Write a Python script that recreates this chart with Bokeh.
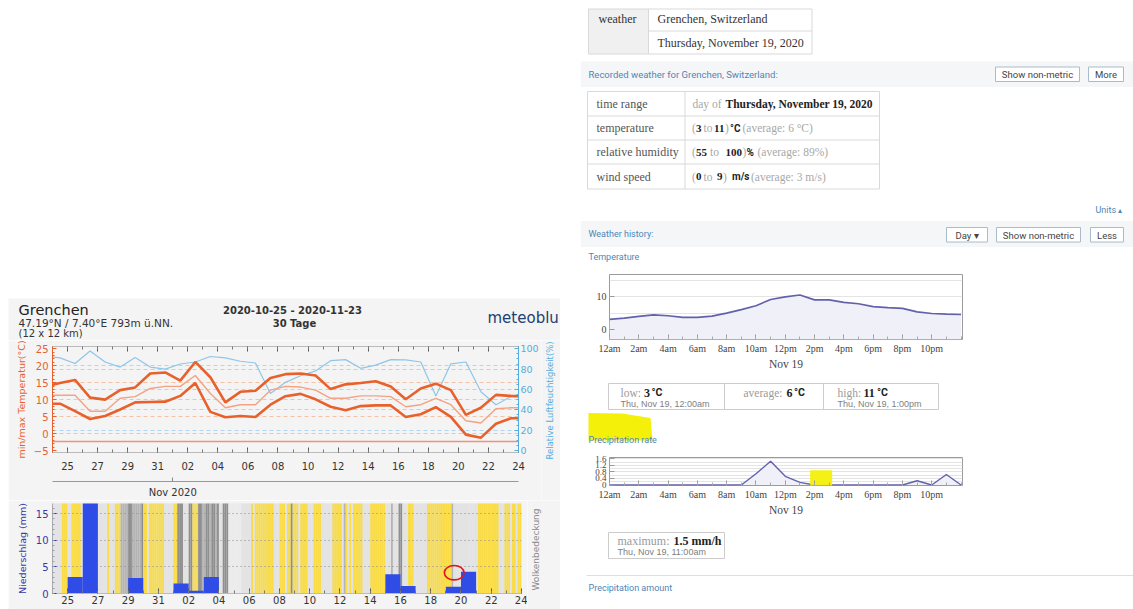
import math
from bokeh.plotting import figure
from bokeh.models import Range1d, LinearAxis, FixedTicker, Spacer
from bokeh.layouts import row, column
from bokeh.core.properties import value
from bokeh.embed import file_html
from bokeh.resources import INLINE

# ---------------- data : meteoblue 30-day chart ----------------
# day offsets, 0 = 2020-10-25 00:00 ; daily values drawn at noon
MB_DAYS = list(range(-2, 31))  # Oct 23 .. Nov 24
T_MAX = [13.9, 14.9, 15.8, 10.6, 10.0, 12.8, 13.6, 17.7, 18.0, 15.6, 21.1, 16.6, 9.2,
         12.3, 12.6, 16.4, 17.5, 17.7, 17.1, 13.1, 14.5, 14.9, 15.4, 13.9, 10.1, 13.3,
         14.7, 12.8, 5.5, 7.6, 11.4, 11.1, 11.0]
T_MEAN = [11.3, 11.3, 11.3, 6.6, 6.6, 10.4, 10.9, 13.3, 13.9, 13.9, 17.1, 11.8, 7.6,
          8.5, 8.5, 12.8, 13.9, 13.7, 12.8, 10.4, 10.4, 11.1, 11.1, 10.9, 7.9, 8.5,
          10.4, 8.5, 3.8, 3.1, 7.3, 7.6, 7.6]
T_MIN = [8.8, 8.8, 6.6, 4.3, 5.2, 7.1, 9.2, 9.3, 9.4, 11.1, 14.9, 6.4, 4.8, 5.2, 4.9,
         8.5, 11.0, 11.7, 10.1, 7.9, 6.9, 8.1, 8.3, 8.3, 4.9, 5.7, 7.8, 4.9, -0.3, -1.2,
         2.9, 4.5, 4.5]
HUM = [93, 91, 85.5, 97.8, 87, 82, 91.5, 82, 80, 85, 87, 92.4, 91, 87.7, 86, 56, 67,
       73.5, 78.2, 88.3, 89.3, 80.8, 83.9, 89.3, 89, 87, 53.6, 85.2, 87, 57.7, 45, 53, 53]
FROST_LINE = [-2.2]

PRECIP_DAYS = list(range(0, 30))  # Oct 25 .. Nov 23
PRECIP = [3.1, 17.5, 0, 0, 2.9, 0, 0, 1.9, 0.5, 3.1, 0.1, 0, 0, 0, 0, 0, 0, 0, 0, 0, 0,
          3.6, 1.4, 0, 0, 1.25, 4.1, 0, 0, 0]

# cloud cover, 3-hourly, from Oct 24: Y sunny, W/L light, M medium, D dark
CLOUD_START = -1
CLOUD = ["LLLLLYYY", "LLYYYYYL", "LLLLLLLL", "LLLLLYLL", "LYYYMMMM", "DDMMMMMD",
         "YYLYYYYY", "YYYLLLLL", "YYDDDLLL", "DDYYYDDM", "MDDMDDMD", "LLDDDWWW",
         "WWWWLLLL", "LYLYYYYY", "YYYYYLLL", "YYYLYYDY", "YYLYYYYL", "LLYYYYLL",
         "LLLLYYYY", "YLMYLYLY", "YYYYLLLL", "YYYYYYYY", "LLLMLLLD", "DLLLYYYL",
         "LLLLLLYY", "YYYYYYYY", "YYYMLLLL", "LLLLLLLL", "LYYYYYYY", "YYYYLLLY",
         "YYLYYLYY"]
CLOUD_COLORS = {"Y": "#f9dc48", "L": "#e3e3e3", "W": "#ececec", "M": "#b4b4b4", "D": "#8f8f8f"}

DAY_TICKS = list(range(0, 31, 2))
DAY_LABELS = ["25", "27", "29", "31", "02", "04", "06", "08", "10", "12", "14", "16",
              "18", "20", "22", "24"]
MONTH_TICK = [7]
MONTH_LABEL = ["Nov 2020"]
T_TICKS = [-5, 0, 5, 10, 15, 20, 25]
T_GRID = [0, 5, 10, 15, 20]
H_TICKS = [0, 20, 40, 60, 80, 100]
H_GRID = [20, 40, 60, 80]
P_TICKS = [0, 5, 10, 15]

# ---------------- data : hourly history (Nov 19) ----------------
HOURS = list(range(25))
TEMP_H = [3.1, 3.5, 4.0, 4.5, 4.2, 3.7, 3.7, 4.1, 5.0, 6.1, 7.3, 9.2, 10.0, 10.6, 9.1,
          9.1, 8.3, 7.9, 7.0, 6.7, 6.5, 5.4, 4.9, 4.7, 4.6]
RATE_H = [0, 0, 0, 0, 0, 0, 0, 0, 0, 0, 0.69, 1.45, 0.53, 0.16, 0, 0, 0, 0, 0, 0, 0,
          0.26, 0, 0.64, 0]
HOUR_TICKS = list(range(0, 24, 2))
HOUR_LABELS = ["12am", "2am", "4am", "6am", "8am", "10am", "12pm", "2pm", "4pm", "6pm",
               "8pm", "10pm"]
TEMP_LABEL_TICKS = [0, 10]
TEMP_GRID = [0, 5, 10, 15]
RATE_TICKS = [0, 0.4, 0.8, 1.2, 1.6]
RATE_LABELS = ["0", "0.4", "0.8", "1.2", "1.6"]
RATE_GRID = [0.2, 0.4, 0.6, 0.8, 1.0, 1.2, 1.4, 1.6]

MB_BG = "#f4f4f4"
ORANGE = "#e8612c"
HBLUE = "#52aee0"
PBLUE = "#3737a8"
WBLUE = "#4f86b8"
SERIF = "Liberation Serif"
SANS = "Roboto"
MBF = "DejaVu Sans"


def page(x0, y0, w, h, bg="#ffffff"):
    p = figure(width=w, height=h, title=None, x_range=Range1d(x0, x0 + w),
               y_range=Range1d(y0 + h, y0), x_axis_type=None, y_axis_type=None,
               output_backend="svg", toolbar_location=None, min_border=0,
               background_fill_color=bg, border_fill_color=bg, outline_line_color=None)
    return p


def txt(p, xs, ys, ts, size, color, font=SERIF, style="normal", align="left", angle=0):
    p.text(x=xs, y=ys, text=ts, text_font=value(font), text_font_size=value(size),
           text_color=color, text_font_style=value(style), text_align=value(align),
           text_baseline=value("middle"), angle=angle)


def box(p, l, r, t, b, fill=None, line="#d9d9d9"):
    p.quad(left=[l], right=[r], top=[t], bottom=[b], fill_color=fill, line_color=line)


# ================= left : meteoblue =================
mb_head = page(8, 298, 552, 42, MB_BG)
txt(mb_head, [18], [309], ["Grenchen"], "14.5px", "#222222", MBF)
txt(mb_head, [18], [322], ["47.19°N / 7.40°E   793m ü.NN."], "10.5px", "#333333", MBF)
txt(mb_head, [18], [333], ["(12 x 12 km)"], "10px", "#333333", MBF)
txt(mb_head, [292], [310], ["2020-10-25 - 2020-11-23"], "10px", "#333333", MBF, "bold", "center")
txt(mb_head, [294], [323], ["30 Tage"], "10px", "#333333", MBF, "bold", "center")
txt(mb_head, [487], [317], ["meteoblu"], "15px", "#23406f", MBF)

mb = figure(width=533, height=160, title=None, x_range=Range1d(-1, 30),
            y_range=Range1d(-5.57, 25.65), x_axis_type=None, y_axis_type=None,
            output_backend="svg", toolbar_location=None,
            min_border_left=44, min_border_right=21, min_border_top=6, min_border_bottom=44,
            background_fill_color=MB_BG, border_fill_color=MB_BG, outline_line_color=None)
mb.extra_y_ranges = {"hum": Range1d(-1.9, 102.2)}

day_minor = list(range(-1, 31))
common_x = dict(major_tick_in=5, major_tick_out=0, minor_tick_in=3, minor_tick_out=0,
                major_tick_line_color="#555555", minor_tick_line_color="#777777",
                axis_line_color="#bbbbbb")
ax_b = LinearAxis(ticker=FixedTicker(ticks=DAY_TICKS, minor_ticks=day_minor),
                  major_label_overrides=dict(zip(DAY_TICKS, DAY_LABELS)),
                  major_label_standoff=9, major_label_text_font=MBF,
                  major_label_text_font_size="10px", major_label_text_color="#333333",
                  axis_label=" ", axis_label_text_font_size="5px", axis_label_standoff=0,
                  **common_x)
mb.add_layout(ax_b, "below")
ax_m = LinearAxis(ticker=FixedTicker(ticks=MONTH_TICK, minor_ticks=[]),
                  major_label_overrides=dict(zip(MONTH_TICK, MONTH_LABEL)),
                  major_tick_in=4, major_tick_out=0, major_tick_line_color="#888888",
                  axis_line_color="#999999", major_label_standoff=5,
                  major_label_text_font=MBF, major_label_text_font_size="10px",
                  major_label_text_color="#333333")
mb.add_layout(ax_m, "below")
ax_t = LinearAxis(ticker=FixedTicker(ticks=DAY_TICKS, minor_ticks=day_minor),
                  major_label_text_alpha=0, major_label_text_font_size="1px",
                  major_label_standoff=0, **common_x)
mb.add_layout(ax_t, "above")
ax_l = LinearAxis(ticker=FixedTicker(ticks=T_TICKS, minor_ticks=list(range(-5, 26))),
                  axis_label="min/max Temperatur(°C)", axis_line_color=ORANGE,
                  major_tick_line_color=ORANGE, minor_tick_line_color=ORANGE,
                  major_tick_in=4, major_tick_out=0, minor_tick_in=2, minor_tick_out=0,
                  major_label_text_color=ORANGE, major_label_text_font=MBF,
                  major_label_text_font_size="10px", major_label_standoff=4,
                  axis_label_text_color=ORANGE, axis_label_text_font=MBF,
                  axis_label_text_font_size="9.5px", axis_label_text_font_style="normal",
                  axis_label_standoff=4)
mb.add_layout(ax_l, "left")
ax_r = LinearAxis(y_range_name="hum",
                  ticker=FixedTicker(ticks=H_TICKS, minor_ticks=list(range(0, 101, 5))),
                  axis_line_color=HBLUE,
                  major_tick_line_color=HBLUE, minor_tick_line_color=HBLUE,
                  major_tick_in=4, major_tick_out=0, minor_tick_in=2, minor_tick_out=0,
                  major_label_text_color=HBLUE, major_label_text_font=MBF,
                  major_label_text_font_size="9.5px", major_label_standoff=2)
mb.add_layout(ax_r, "right")

mb.hspan(y=T_GRID, line_color="#f6c2a6", line_dash="4 3", line_width=1)
mb.hspan(y=H_GRID, y_range_name="hum", line_color="#b3d6ee", line_dash="4 3", line_width=1)
mb.hspan(y=FROST_LINE, line_color="#f28e7c", line_width=1.5)
x_mid = [d + 0.5 for d in MB_DAYS]
mb.line(x_mid, HUM, y_range_name="hum", line_color="#8fc6e8", line_width=1.2)
mb.line(x_mid, T_MEAN, line_color="#f3a283", line_width=1.4)
mb.line(x_mid, T_MAX, line_color=ORANGE, line_width=2.6)
mb.line(x_mid, T_MIN, line_color=ORANGE, line_width=2.6)

# rotated side labels: anchored at their lower end, reading upwards
side1 = page(541, 340, 19, 160, MB_BG)
txt(side1, [549.5], [459], ["Relative Luftfeuchtigkeit(%)"], "8.5px", HBLUE, MBF,
    align="left", angle=math.pi / 2)

mbb = figure(width=519, height=109, title=None, x_range=Range1d(-1, 30),
             y_range=Range1d(0, 16.9), x_axis_type=None, y_axis_type=None,
             output_backend="svg", toolbar_location=None,
             min_border_left=44, min_border_right=6, min_border_top=3, min_border_bottom=16,
             background_fill_color="#e6e6e6", border_fill_color=MB_BG, outline_line_color=None)
lefts, rights, cols = [], [], []
for i, day in enumerate(CLOUD):
    for s, c in enumerate(day):
        x0 = CLOUD_START + i + s / 8.0
        lefts.append(x0)
        rights.append(x0 + 1 / 8.0)
        cols.append(CLOUD_COLORS[c])
mbb.quad(left=lefts, right=rights, bottom=0, top=18, fill_color=cols, line_color=None)
mbb.hspan(y=P_TICKS[1:], line_color="#8a8a8a", line_dash="1 3", line_width=1)
mbb.quad(left=PRECIP_DAYS, right=[d + 1 for d in PRECIP_DAYS], bottom=0, top=PRECIP,
         fill_color="#2f4de6", line_color=None)
mbb.ellipse(x=[25.55], y=[3.9], width=[1.3], height=[2.7], fill_color=None,
            line_color="#e3141c", line_width=1.6)
bx2 = LinearAxis(ticker=FixedTicker(ticks=DAY_TICKS, minor_ticks=day_minor),
                 major_label_overrides=dict(zip(DAY_TICKS, DAY_LABELS)),
                 major_label_standoff=2, major_label_text_font=MBF,
                 major_label_text_font_size="10px", major_label_text_color="#333333",
                 **common_x)
mbb.add_layout(bx2, "below")
lx2 = LinearAxis(ticker=FixedTicker(ticks=P_TICKS, minor_ticks=list(range(0, 17))),
                 axis_label="Niederschlag (mm)", axis_line_color="#aaaaaa",
                 major_tick_line_color=PBLUE, minor_tick_line_color="#9999cc",
                 major_tick_in=4, major_tick_out=0, minor_tick_in=2, minor_tick_out=0,
                 major_label_text_color=PBLUE, major_label_text_font=MBF,
                 major_label_text_font_size="10px", major_label_standoff=4,
                 axis_label_text_color=PBLUE, axis_label_text_font=MBF,
                 axis_label_text_font_size="9.5px", axis_label_text_font_style="normal",
                 axis_label_standoff=5)
mbb.add_layout(lx2, "left")

side2 = page(527, 500, 33, 109, MB_BG)
txt(side2, [535], [590], ["Wolkenbedeckung"], "9px", "#8a8a8a", MBF, align="left",
    angle=math.pi / 2)

# ================= right : weather history page =================
RX, RW = 580, 553
p1 = page(RX, 0, RW, 268)
box(p1, 588, 648, 8.5, 53.5, fill="#f0f0f0", line=None)
box(p1, 588, 811.5, 8.5, 53.5)
p1.segment(x0=[648, 648], y0=[8.5, 30.5], x1=[648, 811.5], y1=[53.5, 30.5], line_color="#d9d9d9")
txt(p1, [598], [18.5], ["weather"], "12px", "#333333")
txt(p1, [657, 657], [18.5, 42], ["Grenchen, Switzerland", "Thursday, November 19, 2020"],
    "12px", "#333333")
box(p1, 580, 1133, 61, 86.5, fill="#f5f6f7", line=None)
txt(p1, [588], [73.5], ["Recorded weather for Grenchen, Switzerland:"], "9.5px", WBLUE, SANS)
p1.quad(left=[995, 1088], right=[1079, 1123], top=[66.5, 66.5], bottom=[81, 81],
        fill_color="white", line_color="#a8bccb")
txt(p1, [1037, 1105.5], [74, 74], ["Show non-metric", "More"], "9.5px", "#444444", SANS,
    align="center")
box(p1, 587, 879, 91, 188.5)
p1.segment(x0=[587, 587, 587, 684.5], y0=[115.5, 139.5, 163.5, 91],
           x1=[879, 879, 879, 684.5], y1=[115.5, 139.5, 163.5, 188.5], line_color="#d9d9d9")
txt(p1, [596] * 4, [103, 127.5, 151.5, 176],
    ["time range", "temperature", "relative humidity", "wind speed"], "12px", "#555555")
gray_seg = [(692, 103, "day of"),
            (691.5, 127.5, "("), (703, 127.5, "to"), (724.5, 127.5, ")"),
            (742, 127.5, "(average: 6 °C)"),
            (691.5, 151.5, "("), (709.5, 151.5, "to"), (742, 151.5, ")"),
            (757, 151.5, "(average: 89%)"),
            (691.5, 176, "("), (703, 176, "to"), (722.5, 176, ")"),
            (750.5, 176, "(average: 3 m/s)")]
bold_seg = [(725, 103, "Thursday, November 19, 2020"),
            (695.5, 127.5, "3"), (713.5, 127.5, "11"),
            (695.5, 151.5, "55"), (725, 151.5, "100"),
            (695.5, 176, "0"), (716.5, 176, "9")]
unit_seg = [(729.5, 127.5, "°C"), (746, 151.5, "%"), (731.5, 176, "m/s")]
txt(p1, [s[0] for s in gray_seg], [s[1] for s in gray_seg], [s[2] for s in gray_seg],
    "11.5px", "#a8a8a8")
txt(p1, [s[0] for s in bold_seg[:1]], [s[1] for s in bold_seg[:1]], [s[2] for s in bold_seg[:1]],
    "11.5px", "#222222", style="bold")
txt(p1, [s[0] for s in bold_seg[1:]], [s[1] for s in bold_seg[1:]], [s[2] for s in bold_seg[1:]],
    "11px", "#222222", style="bold")
txt(p1, [s[0] for s in unit_seg], [s[1] for s in unit_seg], [s[2] for s in unit_seg],
    "10px", "#222222", SANS, "bold")
txt(p1, [1095], [209.5], ["Units"], "9px", WBLUE, SANS)
txt(p1, [1117], [209.5], ["▴"], "8px", WBLUE, SANS)
box(p1, 580, 1133, 220.5, 246.5, fill="#f5f6f7", line=None)
txt(p1, [588], [233.5], ["Weather history:"], "9px", WBLUE, SANS)
p1.quad(left=[946, 996, 1090], right=[987, 1080, 1123], top=[227, 227, 227],
        bottom=[241.5, 241.5, 241.5], fill_color="white", line_color="#a8bccb")
txt(p1, [966.5, 1038, 1106.5], [234.5] * 3, ["Day ▾", "Show non-metric", "Less"], "9.5px",
    "#444444", SANS, align="center")
txt(p1, [588], [256.5], ["Temperature"], "9px", WBLUE, SANS)


def wolfram_axes(p, yticks, ylabels):
    p.xaxis.ticker = FixedTicker(ticks=HOUR_TICKS, minor_ticks=HOURS)
    p.xaxis.major_label_overrides = dict(zip(HOUR_TICKS, HOUR_LABELS))
    p.xaxis.axis_label = "Nov 19"
    p.yaxis.ticker = FixedTicker(ticks=yticks, minor_ticks=[])
    p.yaxis.major_label_overrides = dict(zip(yticks, ylabels))
    for ax in (p.xaxis, p.yaxis):
        ax.axis_line_color = None
        ax.major_tick_in = 5
        ax.major_tick_out = 0
        ax.minor_tick_in = 3
        ax.minor_tick_out = 0
        ax.major_tick_line_color = "#999999"
        ax.minor_tick_line_color = "#aaaaaa"
        ax.major_label_text_font = SERIF
        ax.major_label_text_font_size = "10px"
        ax.major_label_text_color = "#444444"
        ax.major_label_standoff = 3
        ax.axis_label_text_font = SERIF
        ax.axis_label_text_font_size = "11.5px"
        ax.axis_label_text_color = "#444444"
        ax.axis_label_text_font_style = "normal"
        ax.axis_label_standoff = 1
    p.xgrid.visible = False
    p.ygrid.grid_line_color = "#e4e4e4"


tc = figure(width=RW, height=104, title=None, x_range=Range1d(0, 24.1),
            y_range=Range1d(-3.1, 16.9), output_backend="svg", toolbar_location=None,
            min_border_left=29, min_border_right=171, min_border_top=6, min_border_bottom=28,
            outline_line_color="#9a9a9a", background_fill_color="white",
            border_fill_color="white")
wolfram_axes(tc, TEMP_LABEL_TICKS, ["0", "10"])
tc.ygrid.ticker = FixedTicker(ticks=TEMP_GRID)
tc.varea(x=HOURS, y1=tc.y_range.start, y2=TEMP_H, fill_color="#f0f0f8")
tc.line(HOURS, TEMP_H, line_color="#6262aa", line_width=1.7)

p2 = page(RX, 372, RW, 80)
box(p2, 608, 938, 383, 409, line="#cccccc")
p2.segment(x0=[724, 823], y0=[383, 383], x1=[724, 823], y1=[409, 409], line_color="#cccccc")
txt(p2, [620, 743, 837], [392] * 3, ["low:", "average:", "high:"], "11.5px", "#9a9a9a")
txt(p2, [643.5, 786, 863], [392] * 3, ["3", "6", "11"], "12px", "#222222", style="bold")
txt(p2, [651, 793.5, 876.5], [392] * 3, ["°C", "°C", "°C"], "10.5px", "#222222", SANS, "bold")
txt(p2, [620, 837], [403.5, 403.5], ["Thu, Nov 19, 12:00am", "Thu, Nov 19, 1:00pm"], "9px",
    "#808080", "Liberation Sans")
p2.patch(x=[588, 622, 650, 652, 588], y=[412.5, 413, 417.5, 440, 440], fill_color="#f4f00a",
         line_color=None)
txt(p2, [588], [439], ["Precipitation rate"], "9px", WBLUE, SANS)

pc = figure(width=RW, height=66, title=None, x_range=Range1d(0, 24.1),
            y_range=Range1d(-0.03, 1.68), output_backend="svg", toolbar_location=None,
            min_border_left=29, min_border_right=171, min_border_top=5, min_border_bottom=26,
            outline_line_color="#9a9a9a", background_fill_color="white",
            border_fill_color="white")
wolfram_axes(pc, RATE_TICKS, RATE_LABELS)
pc.yaxis.major_label_text_font_size = "9px"
pc.ygrid.ticker = FixedTicker(ticks=RATE_GRID)
pc.varea(x=HOURS, y1=0, y2=RATE_H, fill_color="#f0f0f8")
pc.line(HOURS, RATE_H, line_color="#6262aa", line_width=1.4)
pc.quad(left=[13.7], right=[15.2], bottom=[-0.3], top=[0.9], fill_color="#f4f00a",
        line_color=None, fill_alpha=0.95)

p3 = page(RX, 518, RW, 91)
box(p3, 608, 724, 532, 558, line="#cccccc")
txt(p3, [617], [540], ["maximum:"], "12px", "#9a9a9a")
txt(p3, [673], [540], ["1.5 mm/h"], "12px", "#222222", style="bold")
txt(p3, [617], [551.5], ["Thu, Nov 19, 11:00am"], "9px", "#808080", "Liberation Sans")
p3.segment(x0=[586], y0=[575], x1=[1133], y1=[575], line_color="#dedede")
txt(p3, [588], [587.5], ["Precipitation amount"], "9px", WBLUE, SANS)

# side label figures are wrapped in their own columns so that Bokeh does not
# align their frames with the neighbouring chart frames
left = column(Spacer(width=580, height=298),
              row(Spacer(width=8, height=42), mb_head, Spacer(width=20, height=42)),
              row(Spacer(width=8, height=160), column(mb), column(side1),
                  Spacer(width=20, height=160)),
              row(Spacer(width=8, height=109), column(mbb), column(side2),
                  Spacer(width=20, height=109)))
right = column(row(p1), row(tc), row(p2), row(pc), row(p3))
layout = row(left, right)

open("out.html", "w").write(file_html(layout, INLINE))
